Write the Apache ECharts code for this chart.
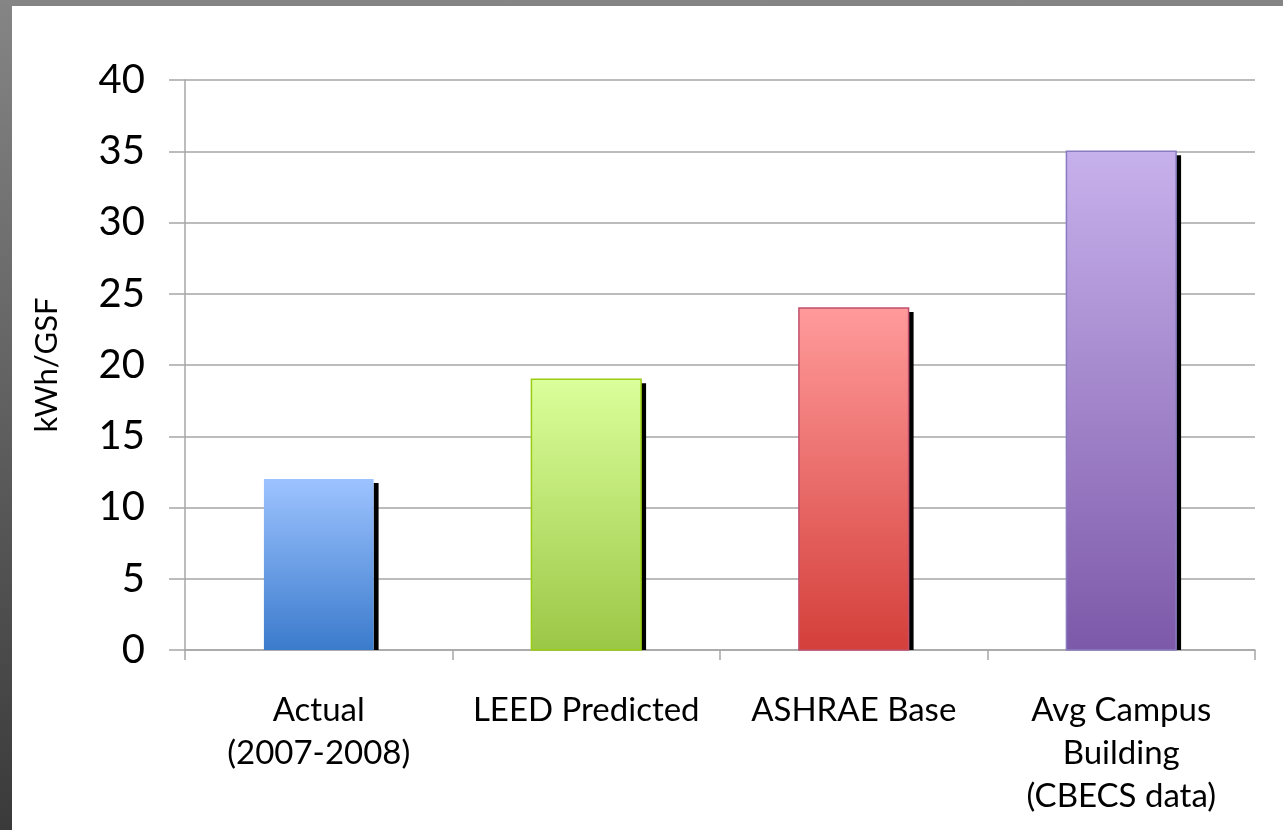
<!DOCTYPE html>
<html>
<head>
<meta charset="utf-8">
<script src="https://cdn.jsdelivr.net/npm/echarts@6/dist/echarts.min.js"></script>
<style>
html,body{margin:0;padding:0;width:1283px;height:830px;overflow:hidden;}
body{background:linear-gradient(to bottom,#858585,#3a3a3a);}
#c{position:absolute;left:12px;top:6px;width:1271px;height:824px;background:#fff;}
</style>
</head>
<body>
<div id="c"></div>
<script>
const categories = ['Actual\n(2007-2008)', 'LEED Predicted', 'ASHRAE Base', 'Avg Campus\nBuilding\n(CBECS data)'];
const values = [12, 19, 24, 35];
const yTicks = { min: 0, max: 40, interval: 5 };
const axisName = 'kWh/GSF';

const palette = [
  { top: '#9dc3ff', bottom: '#3b7bcc', stroke: null },
  { top: '#dbff9b', bottom: '#9bc746', stroke: '#9acc10' },
  { top: '#ff9b9b', bottom: '#d43f3a', stroke: '#c0506d' },
  { top: '#c7b1ec', bottom: '#7d59a9', stroke: '#8a7cc0' }
];

const FONT = 'Lato';
const chart = echarts.init(document.getElementById('c'));
chart.setOption({
  animation: false,
  grid: { left: 173, top: 74, right: 28, bottom: 180 },
  xAxis: {
    type: 'category',
    data: categories,
    axisLine: { show: true, lineStyle: { color: '#a6a6a6', width: 1.5 } },
    axisTick: { show: true, length: 10, lineStyle: { color: '#a6a6a6', width: 1.5 } },
    axisLabel: { color: '#000', fontFamily: FONT, fontSize: 33, lineHeight: 43, margin: 39, interval: 0 },
    splitLine: { show: false }
  },
  yAxis: {
    type: 'value',
    min: yTicks.min, max: yTicks.max, interval: yTicks.interval,
    name: axisName,
    nameLocation: 'middle',
    nameGap: 123,
    nameRotate: 90,
    nameTextStyle: { color: '#000', fontFamily: FONT, fontSize: 31 },
    axisLine: { show: true, lineStyle: { color: '#a6a6a6', width: 1.5 } },
    axisTick: { show: true, length: 16, lineStyle: { color: '#a6a6a6', width: 1.5 } },
    axisLabel: { color: '#000', fontFamily: FONT, fontSize: 40, margin: 40 },
    splitLine: { show: true, lineStyle: { color: '#a6a6a6', width: 1.5 } }
  },
  series: [{
    type: 'custom',
    data: values.map((v, i) => [i, v]),
    encode: { x: 0, y: 1 },
    renderItem: function (params, api) {
      const idx = api.value(0);
      const v = api.value(1);
      const top = api.coord([idx, v]);
      const base = api.coord([idx, 0]);
      const band = api.size([1, 0])[0];
      const w = band * 0.41;
      const x = top[0] - w / 2;
      const h = base[1] - top[1];
      const p = palette[idx];
      const children = [
        { type: 'rect', shape: { x: x + w, y: top[1] + 4, width: 5, height: h - 4 }, style: { fill: '#000' } },
        { type: 'rect', shape: { x: x, y: top[1], width: w, height: h },
          style: {
            fill: { type: 'linear', x: 0, y: 0, x2: 0, y2: 1, colorStops: [{ offset: 0, color: p.top }, { offset: 1, color: p.bottom }] },
            stroke: p.stroke || 'none', lineWidth: p.stroke ? 1.5 : 0
          } }
      ];
      return { type: 'group', children: children };
    }
  }]
});
</script>
</body>
</html>
